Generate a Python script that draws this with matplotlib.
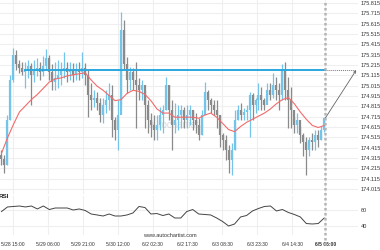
import numpy as np
import matplotlib
matplotlib.use("Agg")
import matplotlib.pyplot as plt
from matplotlib.transforms import blended_transform_factory
from matplotlib.lines import Line2D

plt.rcParams['font.family'] = ['Liberation Sans', 'DejaVu Sans']

# ---- data ----
first_open = 174.34
closes = [174.31, 174.25, 174.68, 175.07, 175.31, 175.22, 175.19, 175.15, 175.17, 175.21,
          175.12, 175.17, 175.19, 175.15, 175.21, 175.28, 175.15, 175.05, 175.09, 175.12,
          175.17, 175.19, 175.15, 175.17, 175.12, 175.17, 175.15, 175.19, 175.12, 174.92,
          174.88, 174.90, 174.85, 174.73, 174.83, 174.88, 174.92, 174.68, 174.59, 174.73,
          175.55, 175.22, 175.07, 175.15, 175.07, 175.02, 174.97, 175.02, 174.83, 174.68,
          174.63, 174.59, 174.63, 174.73, 174.78, 175.02, 174.78, 174.63, 174.68, 174.73,
          174.78, 174.68, 174.73, 174.78, 174.68, 174.63, 174.54, 174.73, 174.95, 174.88,
          174.83, 174.78, 174.73, 174.54, 174.49, 174.39, 174.30, 174.39, 174.68, 174.78,
          174.73, 174.76, 174.78, 174.92, 174.83, 174.88, 174.92, 174.88, 174.83, 174.97,
          174.92, 175.02, 174.97, 174.92, 175.17, 174.97, 174.88, 174.78, 174.63, 174.68,
          174.54, 174.47, 174.39, 174.49, 174.47, 174.54, 174.49, 174.59, 174.70]
highs = [174.39, 174.34, 174.73, 175.12, 175.38, 175.36, 175.26, 175.24, 175.24, 175.26,
         175.23, 175.26, 175.28, 175.24, 175.30, 175.37, 175.31, 175.22, 175.24, 175.26,
         175.24, 175.34, 175.24, 175.24, 175.23, 175.23, 175.24, 175.34, 175.23, 175.17,
         175.04, 174.97, 174.95, 174.90, 174.90, 174.97, 175.04, 175.02, 174.71, 174.88,
         175.73, 175.65, 175.29, 175.20, 175.19, 175.24, 175.09, 175.07, 174.97, 174.88,
         174.75, 174.73, 174.73, 174.81, 174.83, 175.10, 175.02, 174.88, 174.85, 174.83,
         174.83, 174.81, 174.83, 174.83, 174.78, 174.75, 174.70, 174.78, 175.05, 174.97,
         174.90, 174.88, 174.88, 174.73, 174.56, 174.54, 174.44, 174.46, 174.78, 174.83,
         174.85, 174.80, 174.83, 174.95, 174.94, 174.90, 175.04, 175.00, 174.90, 175.04,
         175.04, 175.14, 175.10, 175.04, 175.22, 175.24, 175.10, 175.00, 174.71, 174.75,
         174.62, 174.56, 174.52, 174.52, 174.56, 174.59, 174.59, 174.62, 174.71]
lows = [174.25, 174.17, 174.25, 174.68, 175.05, 175.17, 175.14, 175.12, 174.99, 175.09,
        174.83, 175.05, 175.11, 175.07, 175.11, 175.17, 175.07, 174.97, 174.97, 174.99,
        175.02, 175.09, 175.05, 175.07, 175.05, 175.07, 175.07, 175.09, 175.02, 174.71,
        174.78, 174.81, 174.78, 174.66, 174.65, 174.75, 174.78, 174.52, 174.49, 174.39,
        174.83, 175.17, 174.94, 174.97, 174.97, 174.61, 174.88, 174.88, 174.61, 174.56,
        174.52, 174.49, 174.49, 174.59, 174.56, 174.78, 174.68, 174.39, 174.56, 174.59,
        174.61, 174.61, 174.61, 174.63, 174.59, 174.56, 174.49, 174.54, 174.78, 174.78,
        174.75, 174.73, 174.61, 174.42, 174.39, 174.30, 174.17, 174.15, 174.39, 174.68,
        174.68, 174.68, 174.68, 174.52, 174.68, 174.75, 174.78, 174.78, 174.78, 174.88,
        174.88, 174.90, 174.88, 174.78, 174.88, 174.88, 174.61, 174.61, 174.56, 174.56,
        174.46, 174.33, 174.15, 174.33, 174.39, 174.39, 174.42, 174.49, 174.57]
ma_values = [174.36, 174.51, 174.64, 174.76, 174.82, 174.88, 174.93, 174.99, 175.05, 175.08,
             175.09, 175.11, 175.12, 175.13, 175.14, 175.07, 175.01, 174.97, 174.92, 174.87,
             174.88, 174.94, 174.97, 174.96, 174.93, 174.87, 174.79, 174.75, 174.75, 174.71,
             174.71, 174.71, 174.71, 174.70, 174.73, 174.75, 174.71, 174.65, 174.59, 174.57,
             174.62, 174.66, 174.69, 174.72, 174.75, 174.79, 174.84, 174.88, 174.90, 174.84,
             174.76, 174.69, 174.63, 174.61, 174.63]
rsi_values = [58.1, 63.8, 64.4, 65.0, 63.8, 65.0, 61.3, 65.0, 60.6, 62.5,
              62.5, 62.5, 60.0, 61.3, 59.4, 55.0, 53.8, 52.5, 55.0, 52.5,
              52.5, 53.8, 56.3, 64.4, 63.1, 55.0, 55.6, 53.1, 55.0, 50.0,
              50.0, 58.1, 60.6, 55.0, 54.4, 53.8, 50.0, 45.6, 40.0, 42.5,
              51.3, 53.1, 58.8, 61.9, 64.4, 65.0, 58.8, 60.6, 56.9, 54.4,
              51.3, 43.1, 42.5, 43.1, 50.0]
level_price = 175.165
level_start = 7.7
target_price = 175.165
tick_pos = [3.9, 15.57, 27.23, 38.9, 50.57, 62.23, 73.9, 85.57, 97.23, 108.33]
tick_labels = ["5/28 15:00", "5/29 06:00", "5/29 21:00", "5/30 12:00", "6/2 02:30",
               "6/2 17:30", "6/3 08:30", "6/3 23:30", "6/4 14:30", "6/5 06:00"]
price_ticks = [174.015 + 0.1 * k for k in range(19)]
rsi_ticks = [40, 60]
now_pos = 108.33
target_pos = 118.7

# ---- figure ----
W, H = 380, 250
fig = plt.figure(figsize=(W / 100, H / 100), dpi=100)
ax = fig.add_axes([0, 1 - 194 / H, 358 / W, 194 / H])
axr = fig.add_axes([0, 1 - 235 / H, 358 / W, 39 / H])

BLUE = '#74c4ea'
GRAY = '#8a8a8a'
GRID = '#efefef'

closes = np.array(closes)
highs = np.array(highs)
lows = np.array(lows)
opens = np.r_[first_open, closes[:-1]]
idx = np.arange(len(closes))
up = closes >= opens
cols = np.where(up, BLUE, GRAY)

for a in (ax, axr):
    for s in a.spines.values():
        s.set_visible(False)
    a.set_xlim(-0.5, 119.3)
    for t in tick_pos:
        a.axvline(t, color=GRID, lw=0.8, zorder=0)

for p in price_ticks:
    ax.axhline(p, color=GRID, lw=0.8, zorder=0)

ax.vlines(idx, lows, highs, colors=cols, lw=0.9, zorder=2)
ax.vlines(idx, np.minimum(opens, closes), np.maximum(opens, closes), colors=cols, lw=1.6, zorder=2)

ma_x = np.arange(0, len(closes), 2)[:len(ma_values)]
ax.plot(ma_x, ma_values, color='#f26b6b', lw=0.8, zorder=3)

ax.plot([level_start, now_pos], [level_price, level_price], color='#2aa7de', lw=1.4, zorder=4)
ax.plot([now_pos, target_pos], [target_price, target_price], color='#777777', lw=0.7,
        ls=(0, (1, 1)), zorder=4)
ax.annotate('', xy=(target_pos, target_price), xytext=(now_pos, closes[-1]),
            arrowprops=dict(arrowstyle='->', color='#666666', lw=0.6,
                            mutation_scale=4, shrinkA=0, shrinkB=0), zorder=5)

ax.set_ylim(175.844 - 0.009677 * 194, 175.844)
ax.set_yticks(price_ticks)
ax.set_yticklabels([f"{p:.3f}" for p in price_ticks])
ax.yaxis.tick_right()
ax.tick_params(axis='y', length=0, pad=2, labelsize=4, labelcolor='#333333')
ax.set_xticks([])

ax.text(57.5, 174.63, 'autochartist', fontsize=7, color='#bbbbbb', alpha=0.55,
        ha='center', va='center', zorder=1)

# RSI panel
rsi_x = np.arange(0, len(closes), 2)[:len(rsi_values)]
axr.plot(rsi_x, rsi_values, color='#444444', lw=0.7)
axr.set_ylim(40 - 9 / 0.8, 60 + 14 / 0.8)
axr.set_yticks(rsi_ticks)
axr.set_yticklabels([str(v) for v in rsi_ticks])
axr.yaxis.tick_right()
axr.tick_params(axis='y', length=0, pad=2, labelsize=4, labelcolor='#333333')
for r in rsi_ticks:
    axr.axhline(r, color=GRID, lw=0.8, zorder=0)
axr.set_xticks(tick_pos)
axr.set_xticklabels(tick_labels)
axr.tick_params(axis='x', length=0, pad=5, labelsize=3.6, labelcolor='#333333')
axr.get_xticklabels()[-1].set_fontweight('bold')

fig.text(-1.5 / W, 1 - 197 / H, 'RSI', fontsize=4.5, fontweight='bold', color='#222222',
         ha='left', va='center')
fig.text(170 / W, 1 - 235.5 / H, 'www.autochartist.com', fontsize=4, color='#333333',
         ha='center', va='center')

# current-time dotted vertical line across both panels
tr = blended_transform_factory(ax.transData, fig.transFigure)
fig.add_artist(Line2D([now_pos, now_pos], [0.02, 1.0], transform=tr, color='#b5b5b5',
                      lw=1.8, ls=(0, (1, 1)), zorder=6))

fig.savefig('out.png', dpi=100)
